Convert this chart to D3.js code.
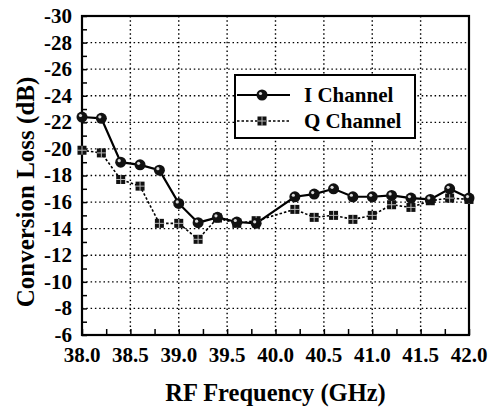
<!DOCTYPE html>
<html><head><meta charset="utf-8">
<script src="https://cdn.jsdelivr.net/npm/d3@7"></script>
</head><body style="margin:0">
<script>
const iFreq = [38.0,38.2,38.4,38.6,38.8,39.0,39.2,39.4,39.6,39.8,40.2,40.4,40.6,40.8,41.0,41.2,41.4,41.6,41.8,42.0];
const iLoss = [-22.4,-22.3,-19.0,-18.8,-18.4,-15.9,-14.45,-14.85,-14.5,-14.4,-16.4,-16.6,-17.0,-16.4,-16.4,-16.5,-16.3,-16.2,-17.0,-16.3];
const qFreq = [38.0,38.2,38.4,38.6,38.8,39.0,39.2,39.4,39.6,39.8,40.2,40.4,40.6,40.8,41.0,41.2,41.4,41.6,41.8,42.0];
const qLoss = [-19.9,-19.7,-17.7,-17.2,-14.4,-14.4,-13.2,-14.8,-14.4,-14.6,-15.45,-14.85,-15.0,-14.7,-15.0,-15.8,-15.6,-16.1,-16.3,-16.2];
const xTicks = [38.0,38.5,39.0,39.5,40.0,40.5,41.0,41.5,42.0];
const yTicks = [-6,-8,-10,-12,-14,-16,-18,-20,-22,-24,-26,-28,-30];
const seriesNames = ["I Channel","Q Channel"];

const FONT='"Liberation Serif"';
const W=491,H=411;
const L=82,R=469,T=16,B=335;
const svg=d3.select("body").append("svg").attr("width",W).attr("height",H).style("display","block");
const x=d3.scaleLinear().domain([38,42]).range([L,R]);
const y=d3.scaleLinear().domain([-30,-6]).range([T,B]);

function txt(sel,size){return sel.style("font-family",FONT).attr("font-weight","bold").attr("font-size",size).attr("fill","#000");}

// grid
const grid=svg.append("g").attr("stroke","#000").attr("stroke-width",1.4).attr("stroke-dasharray","1.5,2.8");
xTicks.slice(1,-1).forEach(v=>grid.append("line").attr("x1",x(v)).attr("x2",x(v)).attr("y1",T).attr("y2",B));
yTicks.slice(1,-1).forEach(v=>grid.append("line").attr("x1",L).attr("x2",R).attr("y1",y(v)).attr("y2",y(v)));

// inward minor/major ticks via axes
const xMinor=d3.range(38,42.001,0.25);
const yMinor=d3.range(-30,-5.999,1);
const xa=svg.append("g").attr("transform",`translate(0,${B})`)
  .call(d3.axisBottom(x).tickValues(xMinor).tickSize(-6).tickFormat(""));
xa.select(".domain").remove();
xa.selectAll("line").attr("stroke-width",1.5);
const ya=svg.append("g").attr("transform",`translate(${L},0)`)
  .call(d3.axisLeft(y).tickValues(yMinor).tickSize(-5).tickFormat(""));
ya.select(".domain").remove();
ya.selectAll("line").attr("stroke-width",1.5);

// tick labels drawn from scales
const fmt=d3.format(".1f");
svg.append("g").selectAll("text").data(xTicks).join("text")
  .attr("x",d=>x(d)).attr("y",362).attr("text-anchor","middle").text(d=>fmt(d))
  .call(s=>txt(s,21));
svg.append("g").selectAll("text").data(yTicks).join("text")
  .attr("x",L-10).attr("y",d=>y(d)).attr("dy","0.33em").attr("text-anchor","end").text(d=>String(d))
  .call(s=>txt(s,21));

svg.append("rect").attr("x",L).attr("y",T).attr("width",R-L).attr("height",B-T)
  .attr("fill","none").attr("stroke","#000").attr("stroke-width",2.2);

// lines
const line=d3.line().x(d=>x(d[0])).y(d=>y(d[1]));
const iData=iFreq.map((f,i)=>[f,iLoss[i]]);
const qData=qFreq.map((f,i)=>[f,qLoss[i]]);
svg.append("path").datum(qData).attr("d",line).attr("fill","none").attr("stroke","#000").attr("stroke-width",1.6).attr("stroke-dasharray","2.5,2");
svg.append("path").datum(iData).attr("d",line).attr("fill","none").attr("stroke","#000").attr("stroke-width",2.2);

function qMarker(g,cx,cy){
  g.append("rect").attr("x",cx-4.5).attr("y",cy-4.5).attr("width",9).attr("height",9).attr("fill","#111");
  g.append("path").attr("d",`M${cx-4.5},${cy}H${cx+4.5}M${cx},${cy-4.5}V${cy+4.5}`).attr("stroke","#fff").attr("stroke-width",1).attr("opacity",0.7);
}
function iMarker(g,cx,cy){
  g.append("circle").attr("cx",cx).attr("cy",cy).attr("r",5.5).attr("fill","#111");
  g.append("circle").attr("cx",cx-1.5).attr("cy",cy-1.5).attr("r",1.6).attr("fill","#fff").attr("opacity",0.85);
}
const mq=svg.append("g");
qData.forEach(d=>qMarker(mq,x(d[0]),y(d[1])));
const mi=svg.append("g");
iData.forEach(d=>iMarker(mi,x(d[0]),y(d[1])));

// legend
const lg=svg.append("g");
lg.append("rect").attr("x",235).attr("y",75).attr("width",180).attr("height",63).attr("fill","#fff").attr("stroke","#000").attr("stroke-width",2);
lg.append("line").attr("x1",237).attr("x2",290).attr("y1",95).attr("y2",95).attr("stroke","#000").attr("stroke-width",2.2);
iMarker(lg,262,95);
lg.append("line").attr("x1",237).attr("x2",290).attr("y1",121).attr("y2",121).attr("stroke","#000").attr("stroke-width",1.6).attr("stroke-dasharray","2.5,2");
qMarker(lg,262,121);
txt(lg.append("text").attr("x",304).attr("y",102).text(seriesNames[0]),21);
txt(lg.append("text").attr("x",304).attr("y",128).text(seriesNames[1]),21);

// titles
txt(svg.append("text").attr("x",(L+R)/2).attr("y",401).attr("text-anchor","middle").text("RF Frequency (GHz)"),24.5);
txt(svg.append("text").attr("transform","translate(34,192) rotate(-90)").attr("text-anchor","middle").text("Conversion Loss (dB)"),25);
</script>
</body></html>
